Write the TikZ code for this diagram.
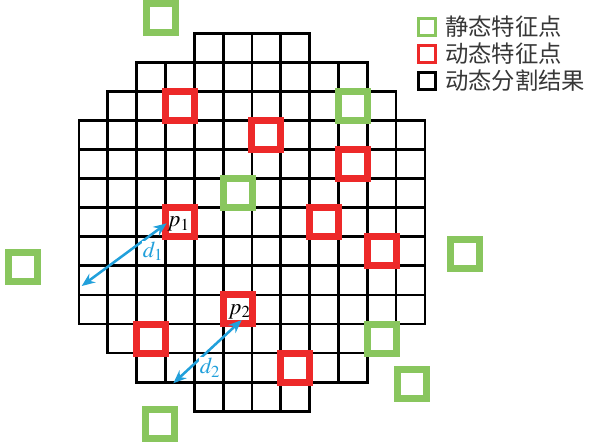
\documentclass[tikz,border=0pt]{standalone}
\usepackage{mathptmx}
\usepackage{fontspec}
\newfontfamily\cjk{Noto Sans CJK SC}
\usetikzlibrary{arrows.meta,positioning}
\definecolor{stgreen}{RGB}{137,198,94}
\definecolor{dyred}{RGB}{237,41,41}
\definecolor{dblue}{RGB}{33,160,219}
\definecolor{legtext}{RGB}{55,55,55}

\begin{document}
\begin{tikzpicture}[
  x=0.75pt, y=-0.75pt,
  cell/.style={draw=black, line width=2.1pt},
  mk/.style={draw, rectangle, line width=5.25pt, minimum size=21.75pt, inner sep=0pt},
  stat/.style={mk, draw=stgreen},
  dyn/.style={mk, draw=dyred},
  leg/.style={draw, rectangle, line width=2.25pt, minimum size=12.75pt, inner sep=0pt},
  legtxt/.style={inner sep=0pt, font=\cjk\fontsize{17.5}{20}\selectfont, text=legtext},
  plab/.style={font=\fontsize{17}{19}\selectfont, inner sep=0.5pt},
  dlab/.style={font=\fontsize{17}{19}\selectfont, text=dblue, fill=white, inner sep=0.5pt},
  dist/.style={{Stealth[length=10pt,width=8pt]}-{Stealth[length=10pt,width=8pt]},
               draw=dblue, line width=1.9pt}]
\useasboundingbox (0,0) rectangle (589,446);

% segmentation result: row / first column / last column
\begin{scope}[shift={(79,33.3)}, x=21.62pt, y=-21.8pt]
\foreach \r/\a/\b in {0/4/7,1/2/9,2/1/10,3/0/11,4/0/11,5/0/11,6/0/11,
                      7/0/11,8/0/11,9/0/11,10/1/10,11/2/9,12/4/7}
  \foreach \c in {\a,...,\b}
    \draw[cell] (\c,\r) rectangle ++(1,1);

% feature points on the grid
\node[stat] (s1) at (9.5,2.5)  {};
\node[stat] (s2) at (5.5,5.5)  {};
\node[stat] (s3) at (10.5,10.5) {};
\node[dyn] (r1) at (3.5,2.5)  {};
\node[dyn] (r2) at (6.5,3.5)  {};
\node[dyn] (r3) at (9.5,4.5)  {};
\node[dyn] (r4) at (3.5,6.5)  {};
\node[dyn] (r5) at (8.5,6.5)  {};
\node[dyn] (r6) at (10.5,7.5) {};
\node[dyn] (r7) at (5.5,9.5)  {};
\node[dyn] (r8) at (2.5,10.5) {};
\node[dyn] (r9) at (7.5,11.5) {};
\end{scope}

% static points outside the grid
\node[stat] (s4) at (161,18.3)    {};
\node[stat] (s5) at (23.3,266.5)  {};
\node[stat] (s6) at (464.7,254.3) {};
\node[stat] (s7) at (412,383.7)   {};
\node[stat] (s8) at (160.3,423.8) {};

\node[plab] (p1) at ([xshift=-1pt,yshift=-1.5pt]r4) {$p_1$};
\node[plab] (p2) at ([xshift=1.5pt,yshift=-1.5pt]r7) {$p_2$};

% distances
\coordinate (d1a) at (81.7,286);
\coordinate (d1b) at (166.7,223.3);
\coordinate (d2a) at (173.3,383.3);
\coordinate (d2b) at (241.7,320);
\draw[dist] (d1a) -- (d1b);
\draw[dist] (d2a) -- (d2b);
\node[dlab] (d1) at (153,251)   {$d_1$};
\node[dlab] (d2) at (210,367.5) {$d_2$};

% legend
\node[leg, draw=stgreen] (lg1) at (426.7,27) {};
\node[leg, draw=dyred]   (lg2) at (426.7,54) {};
\node[leg, draw=black]   (lg3) at (426.7,81) {};
\node[legtxt, right=6.2pt of lg1] (lt1) {静态特征点};
\node[legtxt, right=6.2pt of lg2] (lt2) {动态特征点};
\node[legtxt, right=6.2pt of lg3] (lt3) {动态分割结果};
\end{tikzpicture}
\end{document}
